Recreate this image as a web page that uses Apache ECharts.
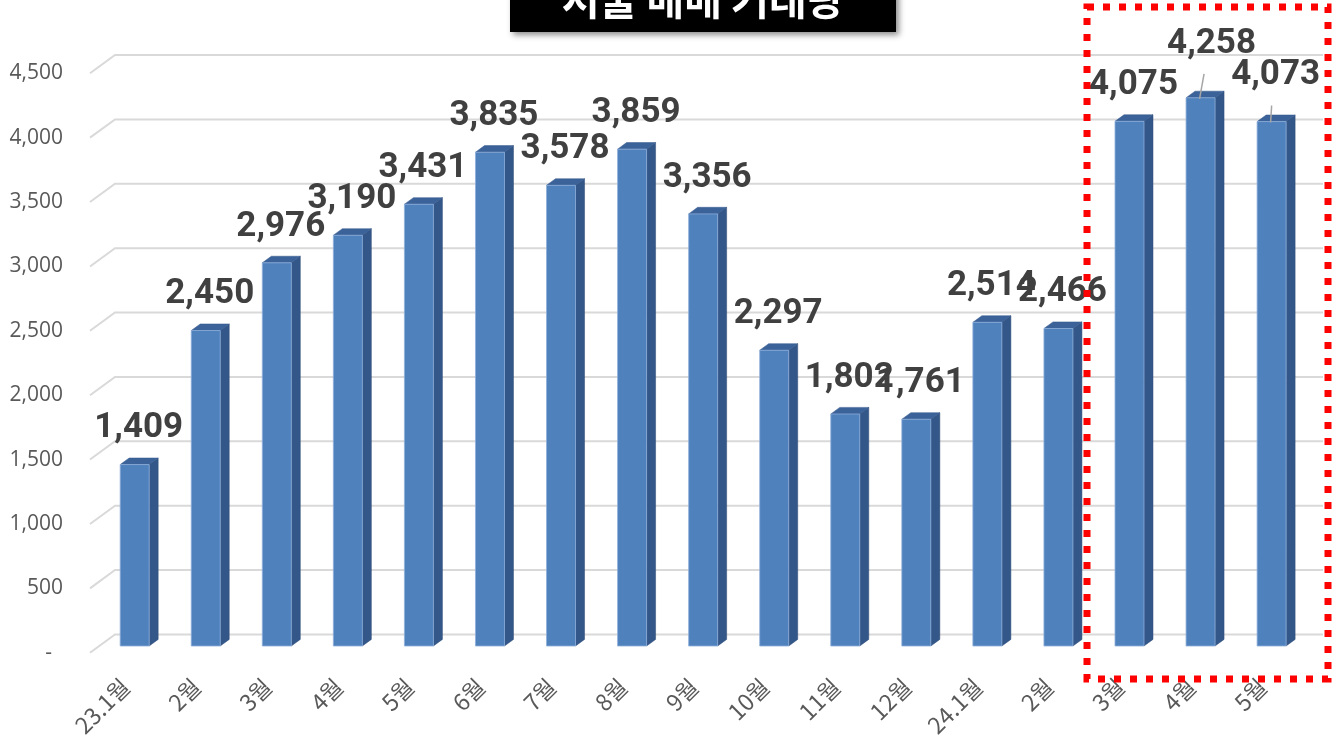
<!DOCTYPE html>
<html>
<head>
<meta charset="utf-8">
<script src="https://cdn.jsdelivr.net/npm/echarts@6/dist/echarts.min.js"></script>
<style>
html,body{margin:0;padding:0;background:#fff;}
#chart{width:1336px;height:742px;}
</style>
</head>
<body>
<div id="chart"></div>
<script>
const categories = ['23.1월','2월','3월','4월','5월','6월','7월','8월','9월','10월','11월','12월','24.1월','2월','3월','4월','5월'];
const volumes = [1409, 2450, 2976, 3190, 3431, 3835, 3578, 3859, 3356, 2297, 1802, 1761, 2514, 2466, 4075, 4258, 4073];
const yTicks = [0, 500, 1000, 1500, 2000, 2500, 3000, 3500, 4000, 4500];
const titleText = '서울 매매 거래량';

const DX = 25, DY = 18.3;         // wall depth offset
const BF = 0.366;                 // bar depth position fraction
const BW = 29, BDX = 9, BDY = 6.6;
// label offsets for crowded labels (index -> [dx, dy])
const labelShift = {15: [7, -18], 16: [0, -10]};

const chart = echarts.init(document.getElementById('chart'));

const option = {
  animation: false,
  grid: {left: 90, right: 38, top: 73.3, bottom: 89.3},
  xAxis: {
    type: 'category',
    data: categories,
    axisLine: {show: false},
    axisTick: {show: false},
    axisLabel: {
      rotate: 45, margin: 30, fontSize: 23, color: '#595959',
      fontFamily: '"Noto Sans CJK KR", "Noto Sans", sans-serif', interval: 0
    }
  },
  yAxis: {
    type: 'value', min: 0, max: 4500, interval: 500,
    axisLine: {show: false}, axisTick: {show: false}, splitLine: {show: false},
    axisLabel: {
      margin: 27, fontSize: 21, color: '#595959', padding: [4, 0, 0, 0],
      fontFamily: '"Open Sans", "Noto Sans", sans-serif',
      formatter: v => v === 0 ? '-  ' : v.toLocaleString('en-US')
    }
  },
  series: [
    {
      type: 'custom',
      silent: true,
      clip: false,
      z: 1,
      data: yTicks.map(v => [0, v]),
      encode: {x: 0, y: 1},
      renderItem: function (params, api) {
        const y = api.coord([0, api.value(1)])[1];
        const cs = params.coordSys;
        const x0 = cs.x, x1 = cs.x + cs.width;
        return {
          type: 'polyline',
          shape: {points: [[x0, y], [x0 + DX, y - DY], [x1 + DX, y - DY]]},
          style: {stroke: '#d9d9d9', lineWidth: 2, fill: null}
        };
      }
    },
    {
      type: 'custom',
      clip: false,
      z: 2,
      data: volumes.map((v, i) => [i, v]),
      encode: {x: 0, y: 1},
      renderItem: function (params, api) {
        const i = api.value(0), v = api.value(1);
        const p = api.coord([i, v]);
        const b = api.coord([i, 0]);
        const cx = p[0] + DX * BF;
        const top = p[1] - DY * BF;
        const bot = b[1] - DY * BF;
        const l = cx - BW / 2, r = cx + BW / 2;
        const sh = labelShift[i] || [0, 0];
        const lx = cx + 4 + sh[0], ly = top - 36 + sh[1];
        const children = [
          {type: 'polygon', shape: {points: [[r, top], [r + BDX, top - BDY], [r + BDX, bot - BDY], [r, bot]]},
            style: {fill: '#34578a', stroke: '#2c4a75', lineWidth: 0.5}},
          {type: 'polygon', shape: {points: [[l, top], [l + BDX, top - BDY], [r + BDX, top - BDY], [r, top]]},
            style: {fill: '#3c6399', stroke: '#35598c', lineWidth: 0.5}},
          {type: 'rect', shape: {x: l, y: top, width: BW, height: bot - top},
            style: {fill: '#4f81bd', stroke: '#8eaedb', lineWidth: 0.8}}
        ];
        if (labelShift[i]) {
          children.push({type: 'line', shape: {x1: lx - 4 - sh[0] * 0.5, y1: ly + 30, x2: cx - 1, y2: top + 1},
            style: {stroke: '#a6a6a6', lineWidth: 1.5}});
        }
        children.push({
          type: 'text', z2: 10,
          style: {
            x: lx, y: ly, text: v.toLocaleString('en-US'),
            fill: '#404040', font: 'bold 35px Roboto, "Noto Sans", sans-serif',
            textAlign: 'center', textVerticalAlign: 'middle'
          }
        });
        return {type: 'group', children: children};
      }
    }
  ],
  graphic: [
    {
      type: 'rect', z: 100,
      shape: {x: 510, y: -40, width: 386, height: 72},
      style: {fill: '#000', shadowColor: 'rgba(0,0,0,0.45)', shadowBlur: 6, shadowOffsetX: 3, shadowOffsetY: 3}
    },
    {
      type: 'text', z: 101,
      style: {
        x: 703, y: -1, text: titleText, fill: '#fff',
        font: 'bold 41px "Noto Sans CJK KR", sans-serif',
        textAlign: 'center', textVerticalAlign: 'middle'
      }
    },
    {
      type: 'rect', z: 110,
      shape: {x: 1087, y: 7, width: 241, height: 672},
      style: {fill: null, stroke: '#ff0000', lineWidth: 7, lineDash: [7, 9]}
    }
  ]
};
chart.setOption(option);
</script>
</body>
</html>
